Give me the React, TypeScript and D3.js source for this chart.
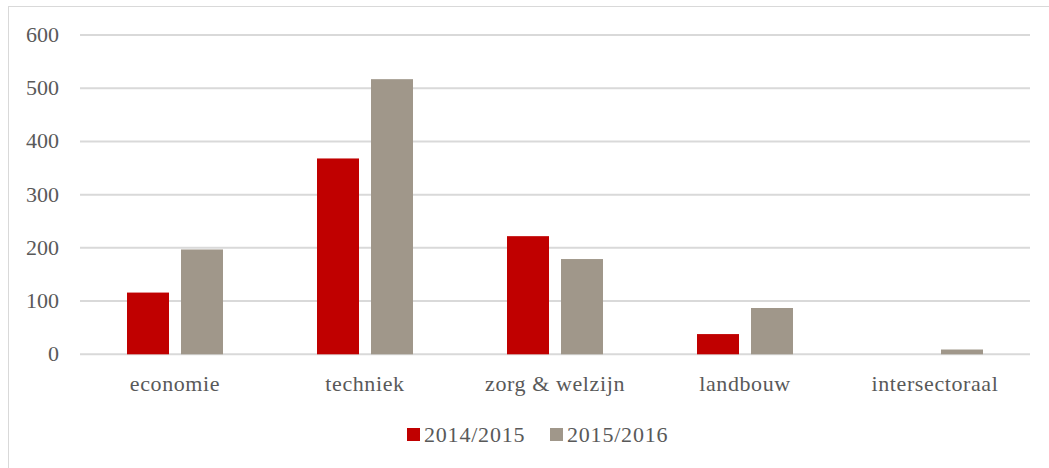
import React from "react";
import * as d3 from "d3";

const categories = ["economie", "techniek", "zorg & welzijn", "landbouw", "intersectoraal"];
const series = ["2014/2015", "2015/2016"];
const values2014 = [116, 368, 222, 38, 0];
const values2015 = [197, 517, 179, 87, 9];
const yTicks = [0, 100, 200, 300, 400, 500, 600];
const colors = ["#C00000", "#A0978A"];

const W = 1049;
const H = 468;
const FONT = "Liberation Serif, DejaVu Serif, serif";

export default function App() {
  const x0 = d3.scaleBand<string>().domain(categories).range([80, 1030]).paddingInner(0).paddingOuter(0);
  const y = d3.scaleLinear().domain([0, 600]).range([354.3, 35]);
  const data = [values2014, values2015];
  const bw = 42;
  const legendItems = [
    { label: series[0], x: 407, color: colors[0] },
    { label: series[1], x: 550, color: colors[1] },
  ];
  return (
    <svg width={W} height={H} style={{ position: "absolute", left: 0, top: 0, background: "#fff" }}>
      <rect x={8.5} y={6.5} width={1100} height={500} fill="#fff" stroke="#d9d9d9" strokeWidth={1} />
      {yTicks.map((t) => (
        <g key={t}>
          <line x1={80} x2={1030} y1={y(t)} y2={y(t)} stroke="#d9d9d9" strokeWidth={2} />
          <text x={59} y={y(t) + 7} textAnchor="end" style={{ fontFamily: FONT, fontSize: 22 }} fill="#595959">
            {t}
          </text>
        </g>
      ))}
      {categories.map((c, ci) => (
        <g key={c} transform={`translate(${x0(c)},0)`}>
          {series.map((s, si) => {
            const v = data[si][ci];
            if (v <= 0) return null;
            const bx = 47 + si * (bw + 12);
            return (
              <rect key={s} x={bx} y={y(v)} width={bw} height={y(0) - y(v)} fill={colors[si]} />
            );
          })}
          <text x={x0.bandwidth() / 2} y={391} textAnchor="middle" style={{ fontFamily: FONT, fontSize: 22, letterSpacing: 0.6 }} fill="#595959">
            {c}
          </text>
        </g>
      ))}
      {legendItems.map((l) => (
        <g key={l.label}>
          <rect x={l.x} y={428} width={13} height={13} fill={l.color} />
          <text x={l.x + 17} y={442} style={{ fontFamily: FONT, fontSize: 22, letterSpacing: 0.8 }} fill="#595959">
            {l.label}
          </text>
        </g>
      ))}
    </svg>
  );
}
